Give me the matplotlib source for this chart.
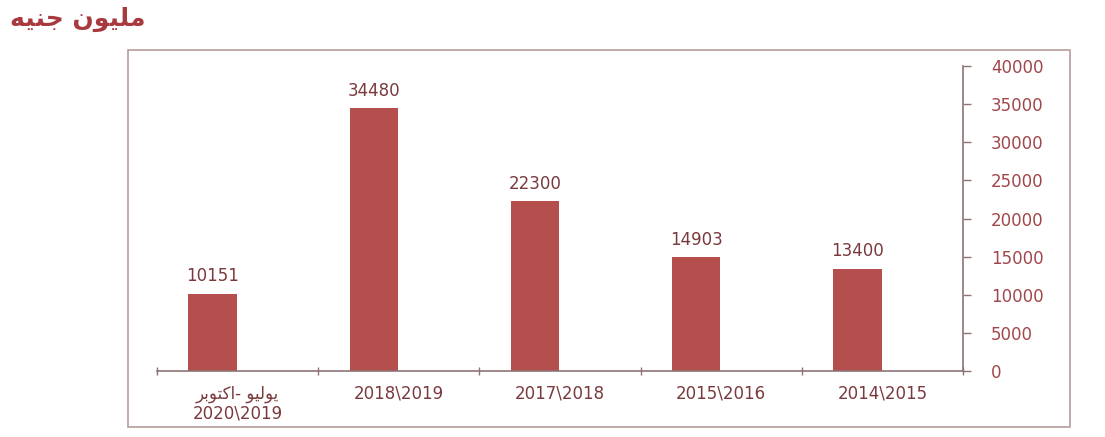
import numpy as np
import matplotlib.pyplot as plt
from matplotlib.patches import Rectangle

plt.rcParams['font.family'] = ['DejaVu Sans']

# Arabic text stored as presentation forms in display order
# (matplotlib does no shaping or bidi on its own)
unit_title = "\uFEEA\uFEF4\uFEE8\uFE9F \uFEE5\uFEEE\uFEF4\uFEE0\uFEE3"   # مليون جنيه
july_october = "\uFEAE\uFE91\uFEEE\uFE98\uFEDB\uFE8D- \uFEEE\uFEF4\uFEDF\uFEEE\uFEF3"  # يوليو- اكتوبر

categories = [july_october + "\n2020\\2019", "2018\\2019", "2017\\2018", "2015\\2016", "2014\\2015"]
values = [10151, 34480, 22300, 14903, 13400]
y_ticks = [0, 5000, 10000, 15000, 20000, 25000, 30000, 35000, 40000]

bar_color = "#b44f4e"
axis_color = "#8c7474"
label_color = "#7a3a3d"
ytick_color = "#a1474b"

fig = plt.figure(figsize=(11.05, 4.37), dpi=100)
ax = fig.add_axes([0.142, 0.151, 0.7295, 0.698])

x = np.arange(len(categories))
bars = ax.bar(x - 0.155, values, width=0.3, color=bar_color, zorder=2)

for b, v in zip(bars, values):
    ax.annotate(str(v), (b.get_x() + b.get_width() / 2, v), xytext=(0, 6),
                textcoords="offset points", ha="center", va="bottom",
                fontsize=12, color=label_color)

ax.set_xlim(-0.5, len(categories) - 0.5)
ax.set_ylim(0, 40000)

# y axis on the right, x ticks at category boundaries
ax.yaxis.tick_right()
ax.set_yticks(y_ticks)
ax.set_yticklabels([str(t) for t in y_ticks], fontsize=12, color=ytick_color)
ax.tick_params(axis="y", direction="out", length=6, width=1, color=axis_color, pad=14)
for lbl in ax.get_yticklabels():
    lbl.set_horizontalalignment("left")

ax.set_xticks(x)
ax.set_xticklabels(categories, fontsize=12, color=label_color, linespacing=1.12)
ax.tick_params(axis="x", length=0, pad=10)
ax.set_xticks(np.arange(-0.5, len(categories)), minor=True)
ax.tick_params(axis="x", which="minor", direction="inout", length=6, width=1, color=axis_color)

for side in ("top", "left"):
    ax.spines[side].set_visible(False)
for side in ("bottom", "right"):
    ax.spines[side].set_color(axis_color)
    ax.spines[side].set_linewidth(1.2)

# outer frame around the chart
frame = Rectangle((128 / 1105, 1 - 427 / 437), (1070 - 128) / 1105, (427 - 50) / 437,
                  transform=fig.transFigure, fill=False, edgecolor="#b89c9c", linewidth=1.2)
fig.patches.append(frame)

fig.text(0.009, 0.985, unit_title, ha="left", va="top", fontsize=18,
         fontweight="bold", color="#a83a3e")

fig.savefig("out.png", dpi=100)
